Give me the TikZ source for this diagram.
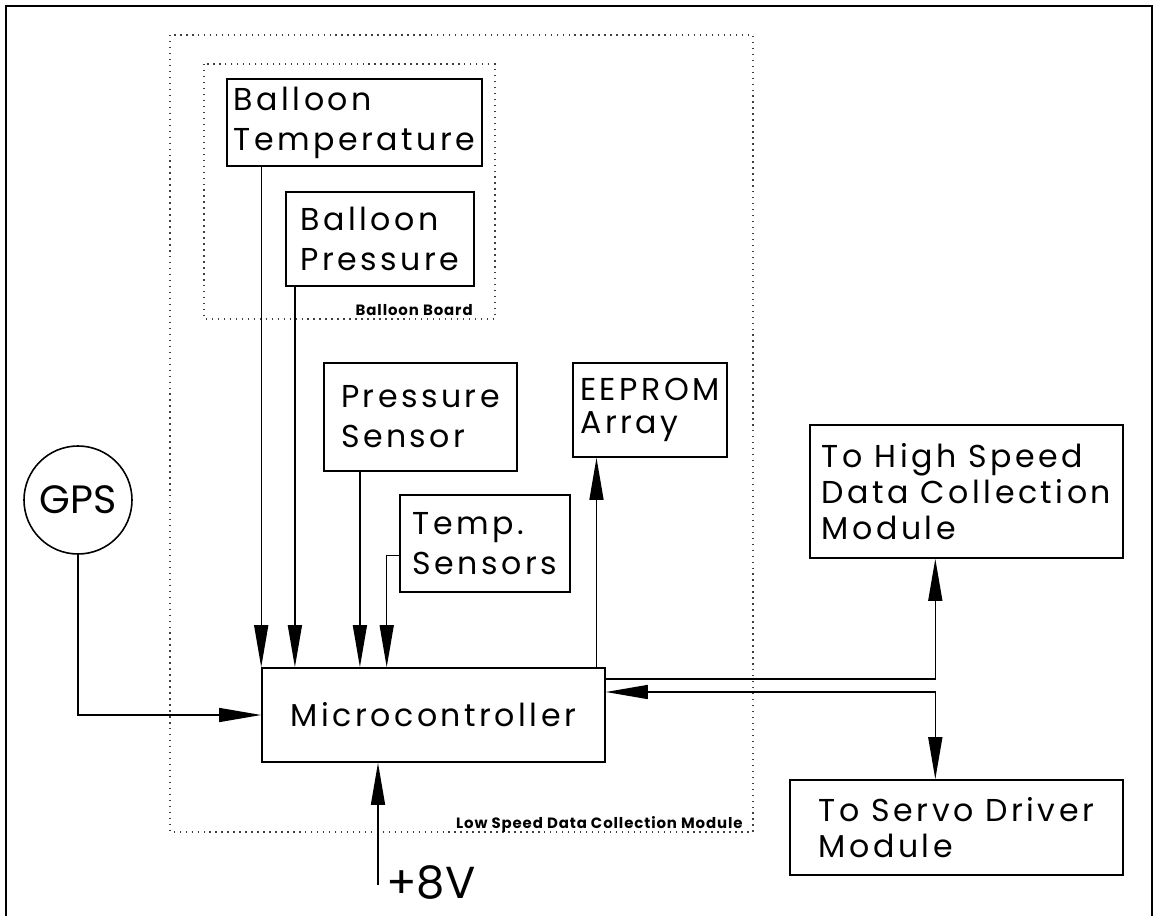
\documentclass[tikz,border=0pt]{standalone}
\usepackage{fontspec}
\setmainfont{Poppins}
\usetikzlibrary{arrows.meta}

\tikzset{
  block/.style={draw, line width=0.9pt, align=left, inner sep=0pt,
    font=\fontsize{18}{22.8}\selectfont\addfontfeature{LetterSpace=11}},
  sig/.style={line width=0.8pt, -{Triangle[length=8.4mm,width=2.8mm]}},
  bus/.style={line width=0.8pt,
    {Triangle[length=8.4mm,width=2.8mm]}-{Triangle[length=8.4mm,width=2.8mm]}},
  region/.style={draw=black!75, line width=0.9pt, dash pattern=on 0.8pt off 2.6pt},
  tag/.style={inner sep=0pt, font=\bfseries\fontsize{8.5}{10}\selectfont\addfontfeature{LetterSpace=6}},
}

\begin{document}
\begin{tikzpicture}[x=0.2mm, y=-0.2mm]
  \useasboundingbox (0,0) rectangle (1154,916);

  % sheet frame
  \draw[line width=1.2pt] (6,916) -- (6,6) -- (1152,6) -- (1152,916);

  % board outlines
  \draw[region] (170,35) rectangle (753,832);
  \draw[region] (204,64) rectangle (495,319);
  \node[tag, anchor=base east] (lsdc) at (743,828) {Low Speed Data Collection Module};
  \node[tag, anchor=base east] (bboard) at (473,315) {Balloon Board};

  % blocks
  \node[block, minimum width=51mm, minimum height=17.4mm] (btemp) at (354.5,122.5) {Balloon\\Temperature};
  \node[block, minimum width=37.6mm, minimum height=18.8mm] (bpress) at (380,239) {Balloon\\Pressure};
  \node[block, minimum width=38.6mm, minimum height=21.6mm] (psens) at (420.5,417) {Pressure\\Sensor};
  \node[block, minimum width=34mm, minimum height=19.4mm] (tsens) at (485,543.5) {Temp.\\Sensors};
  \node[block, minimum width=30.8mm, minimum height=18.8mm,
    font=\fontsize{18}{18.8}\selectfont\addfontfeature{LetterSpace=11}] (eeprom) at (650,410) {EEPROM\\Array};
  \node[block, minimum width=68.6mm, minimum height=18.8mm] (micro) at (433.5,715) {Microcontroller};
  \node[block, minimum width=62.6mm, minimum height=26.6mm,
    font=\fontsize{18}{20.5}\selectfont\addfontfeature{LetterSpace=11}] (hs) at (966.5,491.5) {To High Speed\\Data Collection\\Module};
  \node[block, minimum width=66.6mm, minimum height=19mm,
    font=\fontsize{18}{20.5}\selectfont\addfontfeature{LetterSpace=11}] (servo) at (956.5,827.5) {To Servo Driver\\Module};
  \node[draw, circle, line width=0.9pt, minimum size=21.6mm, inner sep=0pt,
    font=\fontsize{22.5}{26}\selectfont] (gps) at (78,500) {GPS};

  % supply
  \coordinate (vin) at (378,885);
  \node[anchor=base west, inner sep=0pt, font=\fontsize{25.5}{30}\selectfont] (vlabel) at (386,898) {+8V};
  \coordinate (tap) at (935.3,0);

  % signals into the microcontroller
  \draw[sig] (btemp.south -| micro.north west) -- (micro.north west);
  \draw[sig] ([xshift=1.94mm]bpress.south west) coordinate (bp) -- (bp |- micro.north);
  \draw[sig] ([xshift=7.34mm]psens.south west) coordinate (ps) -- (ps |- micro.north);
  \draw[sig] ([yshift=-2.44mm]tsens.west) -- ++(-2.5mm,0) coordinate (ts) -- (ts |- micro.north);
  \draw[sig] (gps.south) |- (micro.west);
  \draw[sig] (vin) -- (vin |- micro.south);

  % outputs
  \draw[sig] ([xshift=-1.86mm]micro.north east) coordinate (me) -- (me |- eeprom.south);
  \draw[sig] ([yshift=7.2mm]micro.east) -| (tap |- hs.south);
  \draw[bus] (micro.east |- 0,692) -| (tap |- servo.north);
\end{tikzpicture}
\end{document}
